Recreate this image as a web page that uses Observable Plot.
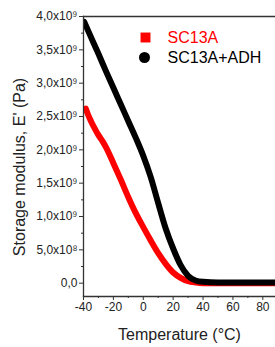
<!DOCTYPE html>
<html><head><meta charset="utf-8">
<script src="https://cdn.jsdelivr.net/npm/d3@7"></script>
<script src="https://cdn.jsdelivr.net/npm/@observablehq/plot@0.6"></script>
<style>
body{margin:0;background:#fff}
svg{font-family:"Liberation Sans",Arial,sans-serif}
</style>
</head><body><div id="chart"></div>
<script>
const seriesNames = ["SC13A", "SC13A+ADH"];
const seriesColors = ["#ff0000", "#000000"];

// SC13A (red)
const tempSC13A = [-38.5, -37, -35, -32, -30, -27, -25, -20, -15, -10, -5, 0, 5, 10, 15, 20, 25, 30, 35, 40, 50, 60, 70, 80, 90];
const modSC13A  = [2.62, 2.53, 2.43, 2.30, 2.22, 2.12, 2.04, 1.80, 1.55, 1.29, 1.05, 0.84, 0.64, 0.45, 0.29, 0.16, 0.08, 0.03, 0.01, 0.0, 0.0, 0.0, 0.0, 0.0, 0.0];

// SC13A+ADH (black)
const tempADH = [-39.5, -35, -30, -25, -20, -15, -10, -5, 0, 5, 10, 15, 20, 25, 30, 35, 40, 50, 60, 70, 80, 90];
const modADH  = [3.92, 3.69, 3.44, 3.18, 2.93, 2.68, 2.43, 2.18, 1.91, 1.59, 1.20, 0.82, 0.52, 0.27, 0.11, 0.04, 0.02, 0.01, 0.01, 0.01, 0.01, 0.01];

const xTicks = [-40, -20, 0, 20, 40, 60, 80];
const xTickLabels = ["-40", "-20", "0", "20", "40", "60", "80"];
const xMinorTicks = [-30, -10, 10, 30, 50, 70];
const yTicks = [0, 0.5, 1.0, 1.5, 2.0, 2.5, 3.0, 3.5, 4.0];
const yTickLabels = ["0,0", "5,0x10⁸", "1,0x10⁹", "1,5x10⁹", "2,0x10⁹", "2,5x10⁹", "3,0x10⁹", "3,5x10⁹", "4,0x10⁹"];
const yMinorTicks = [0.25, 0.75, 1.25, 1.75, 2.25, 2.75, 3.25, 3.75];
const xTitle = "Temperature (°C)";
const yTitle = "Storage modulus, E' (Pa)";

const data = [
  ...tempSC13A.map((t, i) => ({series: seriesNames[0], T: t, E: modSC13A[i] * 1e9})),
  ...tempADH.map((t, i) => ({series: seriesNames[1], T: t, E: modADH[i] * 1e9}))
];
const yTickValues = yTicks.map(v => v * 1e9);
const yMinorValues = yMinorTicks.map(v => v * 1e9);
const yLabelOf = new Map(yTickValues.map((v, i) => [v, yTickLabels[i]]));
const xLabelOf = new Map(xTicks.map((v, i) => [v, xTickLabels[i]]));

const chart = Plot.plot({
  width: 275,
  height: 347,
  marginLeft: 83,
  marginRight: 0,
  marginTop: 16,
  marginBottom: 51,
  style: {fontFamily: "'Liberation Sans', Arial, sans-serif", background: "#fff"},
  x: {domain: [-40, 88.5]},
  y: {domain: [-0.2e9, 4.0e9]},
  marks: [
    Plot.line(data.filter(d => d.series === seriesNames[0]), {x: "T", y: "E", stroke: seriesColors[0], strokeWidth: 6, curve: "monotone-x", clip: true}),
    Plot.line(data.filter(d => d.series === seriesNames[1]), {x: "T", y: "E", stroke: seriesColors[1], strokeWidth: 6, curve: "monotone-x", clip: true}),
    Plot.frame({anchor: "top", stroke: "#333", strokeWidth: 1.3}),
    Plot.frame({anchor: "left", stroke: "#333", strokeWidth: 1.3}),
    Plot.frame({anchor: "bottom", stroke: "#333", strokeWidth: 1.3}),
    Plot.axisX(xTicks, {tickSize: 4, tickPadding: 2, fontSize: 12, label: null, tickFormat: d => xLabelOf.get(d), stroke: "#333", fill: "#222"}),
    Plot.axisX(xMinorTicks, {tickSize: 2, tickFormat: () => "", label: null, stroke: "#333"}),
    Plot.axisY(yTickValues, {tickSize: 4, tickPadding: 2, fontSize: 12, label: null, tickFormat: d => yLabelOf.get(d), stroke: "#333", fill: "#222"}),
    Plot.axisY(yMinorValues, {tickSize: 2, tickFormat: () => "", label: null, stroke: "#333"}),
    // legend
    Plot.dot([seriesNames[0]], {frameAnchor: "top-left", dx: 62, dy: 21, symbol: "square", r: 5.6, fill: seriesColors[0], stroke: null}),
    Plot.dot([seriesNames[1]], {frameAnchor: "top-left", dx: 61, dy: 41, symbol: "circle", r: 5.5, fill: seriesColors[1], stroke: null}),
    Plot.text([seriesNames[0]], {frameAnchor: "top-left", dx: 84, dy: 21, text: d => d, fill: seriesColors[0], fontSize: 16, textAnchor: "start", lineAnchor: "middle"}),
    Plot.text([seriesNames[1]], {frameAnchor: "top-left", dx: 84, dy: 41, text: d => d, fill: seriesColors[1], fontSize: 16, textAnchor: "start", lineAnchor: "middle"}),
    // titles
    Plot.text([xTitle], {frameAnchor: "bottom", dy: 38, text: d => d, fontSize: 16, fill: "#222", textAnchor: "middle", lineAnchor: "middle"}),
    Plot.text([yTitle], {frameAnchor: "left", dx: -64, dy: 10.5, rotate: -90, text: d => d, fontSize: 16, fill: "#222", textAnchor: "middle", lineAnchor: "middle"})
  ]
});
document.getElementById("chart").appendChild(chart);
</script>
</body></html>
